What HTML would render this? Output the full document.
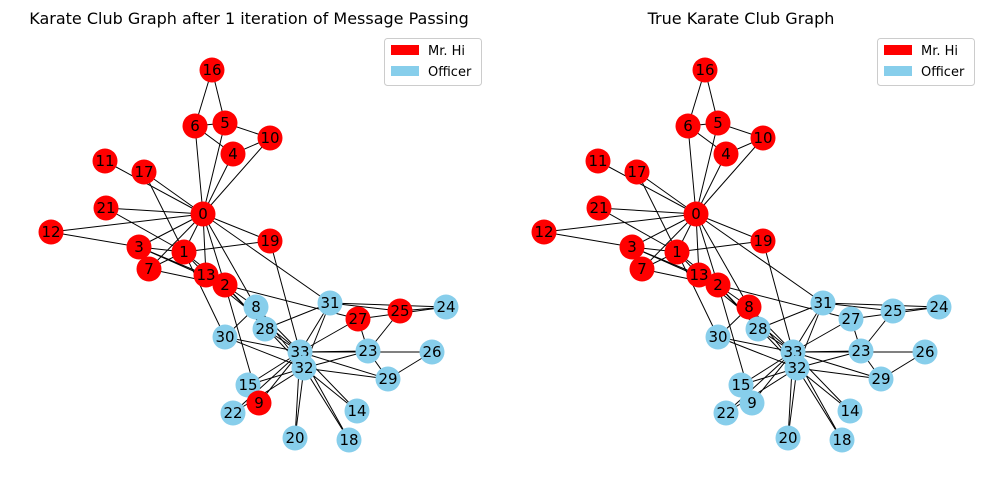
<!DOCTYPE html>
<html><head><meta charset="utf-8"><style>
html,body{margin:0;padding:0;background:#fff;}
svg{display:block;font-family:"DejaVu Sans","Liberation Sans",sans-serif;}
.n text{font-size:15px;text-anchor:middle;dominant-baseline:central;fill:#000;}
</style></head><body>
<svg width="989" height="490" viewBox="0 0 989 490" xmlns="http://www.w3.org/2000/svg">
<defs>
<g id="e" stroke="#000" stroke-width="1">
<line x1="203" y1="214" x2="184" y2="252"/><line x1="203" y1="214" x2="225" y2="285"/><line x1="203" y1="214" x2="139" y2="247"/><line x1="203" y1="214" x2="233" y2="154"/><line x1="203" y1="214" x2="225" y2="123"/><line x1="203" y1="214" x2="195" y2="126"/><line x1="203" y1="214" x2="149" y2="269"/><line x1="203" y1="214" x2="256" y2="307"/><line x1="203" y1="214" x2="270" y2="138"/><line x1="203" y1="214" x2="105" y2="161"/><line x1="203" y1="214" x2="51" y2="232"/><line x1="203" y1="214" x2="206" y2="275"/><line x1="203" y1="214" x2="144" y2="172"/><line x1="203" y1="214" x2="270" y2="241"/><line x1="203" y1="214" x2="106" y2="208"/><line x1="203" y1="214" x2="330" y2="303"/>
<line x1="184" y1="252" x2="225" y2="285"/><line x1="184" y1="252" x2="139" y2="247"/><line x1="184" y1="252" x2="149" y2="269"/><line x1="184" y1="252" x2="206" y2="275"/><line x1="184" y1="252" x2="144" y2="172"/><line x1="184" y1="252" x2="270" y2="241"/><line x1="184" y1="252" x2="106" y2="208"/><line x1="184" y1="252" x2="225" y2="337"/>
<line x1="225" y1="285" x2="139" y2="247"/><line x1="225" y1="285" x2="149" y2="269"/><line x1="225" y1="285" x2="256" y2="307"/><line x1="225" y1="285" x2="259" y2="403"/><line x1="225" y1="285" x2="206" y2="275"/><line x1="225" y1="285" x2="358" y2="319"/><line x1="225" y1="285" x2="265" y2="329"/><line x1="225" y1="285" x2="304" y2="368"/>
<line x1="139" y1="247" x2="149" y2="269"/><line x1="139" y1="247" x2="51" y2="232"/><line x1="139" y1="247" x2="206" y2="275"/>
<line x1="233" y1="154" x2="195" y2="126"/><line x1="233" y1="154" x2="270" y2="138"/>
<line x1="225" y1="123" x2="195" y2="126"/><line x1="225" y1="123" x2="270" y2="138"/><line x1="225" y1="123" x2="212" y2="70"/><line x1="195" y1="126" x2="212" y2="70"/>
<line x1="256" y1="307" x2="225" y2="337"/><line x1="256" y1="307" x2="304" y2="368"/><line x1="256" y1="307" x2="300" y2="352"/>
<line x1="259" y1="403" x2="300" y2="352"/><line x1="206" y1="275" x2="300" y2="352"/>
<line x1="357" y1="411" x2="304" y2="368"/><line x1="357" y1="411" x2="300" y2="352"/>
<line x1="248" y1="385" x2="304" y2="368"/><line x1="248" y1="385" x2="300" y2="352"/>
<line x1="349" y1="440" x2="304" y2="368"/><line x1="349" y1="440" x2="300" y2="352"/>
<line x1="270" y1="241" x2="300" y2="352"/>
<line x1="295" y1="438" x2="304" y2="368"/><line x1="295" y1="438" x2="300" y2="352"/>
<line x1="233" y1="413" x2="304" y2="368"/><line x1="233" y1="413" x2="300" y2="352"/>
<line x1="368" y1="351" x2="400" y2="311"/><line x1="368" y1="351" x2="358" y2="319"/><line x1="368" y1="351" x2="388" y2="379"/><line x1="368" y1="351" x2="304" y2="368"/><line x1="368" y1="351" x2="300" y2="352"/>
<line x1="446" y1="307" x2="400" y2="311"/><line x1="446" y1="307" x2="358" y2="319"/><line x1="446" y1="307" x2="330" y2="303"/>
<line x1="400" y1="311" x2="330" y2="303"/>
<line x1="432" y1="352" x2="388" y2="379"/><line x1="432" y1="352" x2="300" y2="352"/>
<line x1="358" y1="319" x2="300" y2="352"/>
<line x1="265" y1="329" x2="330" y2="303"/><line x1="265" y1="329" x2="300" y2="352"/>
<line x1="388" y1="379" x2="304" y2="368"/><line x1="388" y1="379" x2="300" y2="352"/>
<line x1="225" y1="337" x2="304" y2="368"/><line x1="225" y1="337" x2="300" y2="352"/>
<line x1="330" y1="303" x2="304" y2="368"/><line x1="330" y1="303" x2="300" y2="352"/>
<line x1="304" y1="368" x2="300" y2="352"/>
</g>
</defs>
<text x="249" y="24" font-size="16" text-anchor="middle">Karate Club Graph after 1 iteration of Message Passing</text>
<text x="741" y="24" font-size="16" text-anchor="middle">True Karate Club Graph</text>
<use href="#e"/>
<use href="#e" x="493"/>
<g class="n">
<circle cx="212" cy="70" r="12.5" fill="red"/><text x="212" y="70">16</text>
<circle cx="195" cy="126" r="12.5" fill="red"/><text x="195" y="126">6</text>
<circle cx="225" cy="123" r="12.5" fill="red"/><text x="225" y="123">5</text>
<circle cx="270" cy="138" r="12.5" fill="red"/><text x="270" y="138">10</text>
<circle cx="233" cy="154" r="12.5" fill="red"/><text x="233" y="154">4</text>
<circle cx="105" cy="161" r="12.5" fill="red"/><text x="105" y="161">11</text>
<circle cx="144" cy="172" r="12.5" fill="red"/><text x="144" y="172">17</text>
<circle cx="106" cy="208" r="12.5" fill="red"/><text x="106" y="208">21</text>
<circle cx="203" cy="214" r="12.5" fill="red"/><text x="203" y="214">0</text>
<circle cx="51" cy="232" r="12.5" fill="red"/><text x="51" y="232">12</text>
<circle cx="270" cy="241" r="12.5" fill="red"/><text x="270" y="241">19</text>
<circle cx="139" cy="247" r="12.5" fill="red"/><text x="139" y="247">3</text>
<circle cx="184" cy="252" r="12.5" fill="red"/><text x="184" y="252">1</text>
<circle cx="149" cy="269" r="12.5" fill="red"/><text x="149" y="269">7</text>
<circle cx="206" cy="275" r="12.5" fill="red"/><text x="206" y="275">13</text>
<circle cx="225" cy="285" r="12.5" fill="red"/><text x="225" y="285">2</text>
<circle cx="256" cy="307" r="12.5" fill="#87ceeb"/><text x="256" y="307">8</text>
<circle cx="330" cy="303" r="12.5" fill="#87ceeb"/><text x="330" y="303">31</text>
<circle cx="400" cy="311" r="12.5" fill="red"/><text x="400" y="311">25</text>
<circle cx="446" cy="307" r="12.5" fill="#87ceeb"/><text x="446" y="307">24</text>
<circle cx="358" cy="319" r="12.5" fill="red"/><text x="358" y="319">27</text>
<circle cx="225" cy="337" r="12.5" fill="#87ceeb"/><text x="225" y="337">30</text>
<circle cx="265" cy="329" r="12.5" fill="#87ceeb"/><text x="265" y="329">28</text>
<circle cx="300" cy="352" r="12.5" fill="#87ceeb"/><text x="300" y="352">33</text>
<circle cx="368" cy="351" r="12.5" fill="#87ceeb"/><text x="368" y="351">23</text>
<circle cx="432" cy="352" r="12.5" fill="#87ceeb"/><text x="432" y="352">26</text>
<circle cx="304" cy="368" r="12.5" fill="#87ceeb"/><text x="304" y="368">32</text>
<circle cx="388" cy="379" r="12.5" fill="#87ceeb"/><text x="388" y="379">29</text>
<circle cx="248" cy="385" r="12.5" fill="#87ceeb"/><text x="248" y="385">15</text>
<circle cx="259" cy="403" r="12.5" fill="red"/><text x="259" y="403">9</text>
<circle cx="233" cy="413" r="12.5" fill="#87ceeb"/><text x="233" y="413">22</text>
<circle cx="357" cy="411" r="12.5" fill="#87ceeb"/><text x="357" y="411">14</text>
<circle cx="295" cy="438" r="12.5" fill="#87ceeb"/><text x="295" y="438">20</text>
<circle cx="349" cy="440" r="12.5" fill="#87ceeb"/><text x="349" y="440">18</text>
</g>
<g class="n" transform="translate(493,0)">
<circle cx="212" cy="70" r="12.5" fill="red"/><text x="212" y="70">16</text>
<circle cx="195" cy="126" r="12.5" fill="red"/><text x="195" y="126">6</text>
<circle cx="225" cy="123" r="12.5" fill="red"/><text x="225" y="123">5</text>
<circle cx="270" cy="138" r="12.5" fill="red"/><text x="270" y="138">10</text>
<circle cx="233" cy="154" r="12.5" fill="red"/><text x="233" y="154">4</text>
<circle cx="105" cy="161" r="12.5" fill="red"/><text x="105" y="161">11</text>
<circle cx="144" cy="172" r="12.5" fill="red"/><text x="144" y="172">17</text>
<circle cx="106" cy="208" r="12.5" fill="red"/><text x="106" y="208">21</text>
<circle cx="203" cy="214" r="12.5" fill="red"/><text x="203" y="214">0</text>
<circle cx="51" cy="232" r="12.5" fill="red"/><text x="51" y="232">12</text>
<circle cx="270" cy="241" r="12.5" fill="red"/><text x="270" y="241">19</text>
<circle cx="139" cy="247" r="12.5" fill="red"/><text x="139" y="247">3</text>
<circle cx="184" cy="252" r="12.5" fill="red"/><text x="184" y="252">1</text>
<circle cx="149" cy="269" r="12.5" fill="red"/><text x="149" y="269">7</text>
<circle cx="206" cy="275" r="12.5" fill="red"/><text x="206" y="275">13</text>
<circle cx="225" cy="285" r="12.5" fill="red"/><text x="225" y="285">2</text>
<circle cx="256" cy="307" r="12.5" fill="red"/><text x="256" y="307">8</text>
<circle cx="330" cy="303" r="12.5" fill="#87ceeb"/><text x="330" y="303">31</text>
<circle cx="400" cy="311" r="12.5" fill="#87ceeb"/><text x="400" y="311">25</text>
<circle cx="446" cy="307" r="12.5" fill="#87ceeb"/><text x="446" y="307">24</text>
<circle cx="358" cy="319" r="12.5" fill="#87ceeb"/><text x="358" y="319">27</text>
<circle cx="225" cy="337" r="12.5" fill="#87ceeb"/><text x="225" y="337">30</text>
<circle cx="265" cy="329" r="12.5" fill="#87ceeb"/><text x="265" y="329">28</text>
<circle cx="300" cy="352" r="12.5" fill="#87ceeb"/><text x="300" y="352">33</text>
<circle cx="368" cy="351" r="12.5" fill="#87ceeb"/><text x="368" y="351">23</text>
<circle cx="432" cy="352" r="12.5" fill="#87ceeb"/><text x="432" y="352">26</text>
<circle cx="304" cy="368" r="12.5" fill="#87ceeb"/><text x="304" y="368">32</text>
<circle cx="388" cy="379" r="12.5" fill="#87ceeb"/><text x="388" y="379">29</text>
<circle cx="248" cy="385" r="12.5" fill="#87ceeb"/><text x="248" y="385">15</text>
<circle cx="259" cy="403" r="12.5" fill="#87ceeb"/><text x="259" y="403">9</text>
<circle cx="233" cy="413" r="12.5" fill="#87ceeb"/><text x="233" y="413">22</text>
<circle cx="357" cy="411" r="12.5" fill="#87ceeb"/><text x="357" y="411">14</text>
<circle cx="295" cy="438" r="12.5" fill="#87ceeb"/><text x="295" y="438">20</text>
<circle cx="349" cy="440" r="12.5" fill="#87ceeb"/><text x="349" y="440">18</text>
</g>
<g font-size="13">
<rect x="384.5" y="38.5" width="97" height="47" rx="3" fill="#fff" stroke="#ccc"/>
<rect x="391" y="45" width="28" height="10" fill="red"/><text x="428" y="55">Mr. Hi</text>
<rect x="391" y="66" width="28" height="10" fill="#87ceeb"/><text x="428" y="76">Officer</text>
<rect x="877.5" y="38.5" width="97" height="47" rx="3" fill="#fff" stroke="#ccc"/>
<rect x="884" y="45" width="28" height="10" fill="red"/><text x="921" y="55">Mr. Hi</text>
<rect x="884" y="66" width="28" height="10" fill="#87ceeb"/><text x="921" y="76">Officer</text>
</g>
</svg>
</body></html>
